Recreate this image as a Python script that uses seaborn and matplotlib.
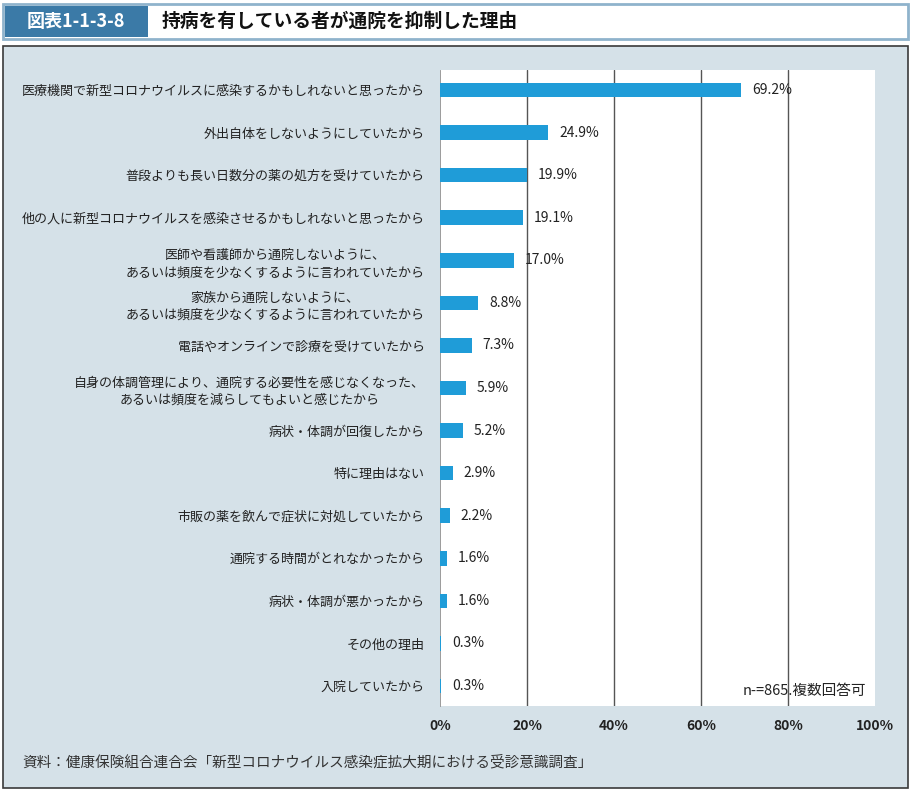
import matplotlib
matplotlib.use("Agg")
import matplotlib.pyplot as plt
import seaborn as sns
import pandas as pd
from matplotlib.patches import Rectangle

categories = [
    "医療機関で新型コロナウイルスに感染するかもしれないと思ったから",
    "外出自体をしないようにしていたから",
    "普段よりも長い日数分の薬の処方を受けていたから",
    "他の人に新型コロナウイルスを感染させるかもしれないと思ったから",
    "医師や看護師から通院しないように、\nあるいは頻度を少なくするように言われていたから",
    "家族から通院しないように、\nあるいは頻度を少なくするように言われていたから",
    "電話やオンラインで診療を受けていたから",
    "自身の体調管理により、通院する必要性を感じなくなった、\nあるいは頻度を減らしてもよいと感じたから",
    "病状・体調が回復したから",
    "特に理由はない",
    "市販の薬を飲んで症状に対処していたから",
    "通院する時間がとれなかったから",
    "病状・体調が悪かったから",
    "その他の理由",
    "入院していたから",
]
values = [69.2, 24.9, 19.9, 19.1, 17.0, 8.8, 7.3, 5.9, 5.2, 2.9, 2.2, 1.6, 1.6, 0.3, 0.3]
xticks = [0, 20, 40, 60, 80, 100]
xticklabels = ["0%", "20%", "40%", "60%", "80%", "100%"]
title_tag = "図表1-1-3-8"
title = "持病を有している者が通院を抑制した理由"
note = "n-=865.複数回答可"
source = "資料：健康保険組合連合会「新型コロナウイルス感染症拡大期における受診意識調査」"

sns.set_theme(style="white")
plt.rcParams["font.family"] = ["Noto Sans CJK JP", "DejaVu Sans"]

W, H = 912, 795
fig = plt.figure(figsize=(W / 100, H / 100), dpi=100)
fig.patch.set_facecolor("white")

def px(x, y, w, h):
    return (x / W, 1 - (y + h) / H, w / W, h / H)

# panel background
x0, y0, w0, h0 = px(3, 46, 905, 742)
fig.patches.append(Rectangle((x0, y0), w0, h0, transform=fig.transFigure,
                             facecolor="#d5e1e8", edgecolor="#3a3a3a", lw=1.2, zorder=-10))
# title bar frame
x1, y1, w1, h1 = px(3, 4, 905, 35)
fig.patches.append(Rectangle((x1, y1), w1, h1, transform=fig.transFigure,
                             facecolor="white", edgecolor="#8fb3cc", lw=2.0, zorder=-10))
x2, y2, w2, h2 = px(5, 6, 143, 31)
fig.patches.append(Rectangle((x2, y2), w2, h2, transform=fig.transFigure,
                             facecolor="#3b7aa7", edgecolor="none", zorder=-9))
fig.text(76 / W, 1 - 21.5 / H, title_tag, color="white", fontsize=13, fontweight="bold",
         ha="center", va="center")
fig.text(162 / W, 1 - 21.5 / H, title, color="#111111", fontsize=13.5, fontweight="bold",
         ha="left", va="center")

ax = fig.add_axes([440 / W, 1 - 706 / H, 435 / W, 636 / H])
ax.set_zorder(1)
df = pd.DataFrame({"cat": categories, "val": values})
sns.barplot(data=df, x="val", y="cat", color="#1f9cd8", width=0.34, ax=ax,
            saturation=1, edgecolor="none")
for p in ax.patches:
    p.set_zorder(4)
ax.set_facecolor("white")
ax.set_xlim(0, 100)
ax.set_ylim(len(categories) - 0.53, -0.47)
ax.set_xlabel("")
ax.set_ylabel("")
ax.set_xticks(xticks)
ax.set_xticklabels(xticklabels, fontsize=10, color="#222222", fontweight="bold")
for x in xticks[1:-1]:
    ax.axvline(x, color="#555555", lw=1.0, zorder=0)
for name, s in ax.spines.items():
    if name == "left":
        s.set_visible(True)
        s.set_color("#8a8a8a")
        s.set_linewidth(0.6)
    else:
        s.set_visible(False)
ax.tick_params(axis="both", length=0)
ax.tick_params(axis="x", pad=9)
ax.tick_params(axis="y", pad=11)
for lbl in ax.get_yticklabels():
    lbl.set_fontsize(9.4)
    lbl.set_color("#222222")
    lbl.set_multialignment("center")
    lbl.set_linespacing(1.45)

ax.bar_label(ax.containers[0], labels=[f"{v:.1f}%" for v in values], padding=8,
             fontsize=10, color="#222222")

ax.text(0.98, 0.012, note, transform=ax.transAxes, ha="right", va="bottom",
        fontsize=10.5, color="#222222")

fig.text(22 / W, 1 - 762 / H, source, fontsize=10.5, color="#333333", ha="left", va="center")

fig.savefig("out.png", dpi=100, facecolor=fig.get_facecolor())
